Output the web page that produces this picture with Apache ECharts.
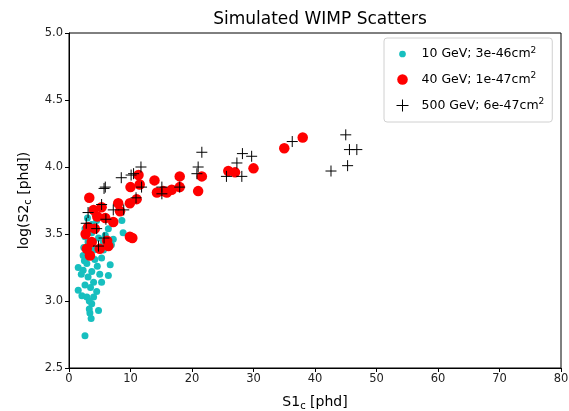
<!DOCTYPE html>
<html>
<head>
<meta charset="utf-8">
<script src="https://cdn.jsdelivr.net/npm/echarts@6/dist/echarts.min.js"></script>
<style>
  html, body { margin: 0; padding: 0; background: #fff; }
  #chart { width: 569px; height: 411px; }
</style>
</head>
<body>
<div id="chart"></div>
<script>
// S1c [phd], log(S2c [phd]) pairs
var wimp10 = [
  [2.6, 2.74], [3.6, 2.87], [3.4, 2.91], [4.8, 2.93], [3.3, 2.94], [3.7, 2.98],
  [1.5, 3.08], [2.1, 3.04], [2.9, 3.03], [4.0, 3.03], [4.5, 3.07], [2.6, 3.12],
  [4.0, 3.14], [5.3, 3.14], [3.1, 3.18], [1.5, 3.25], [2.3, 3.23], [3.7, 3.22],
  [5.0, 3.20], [6.4, 3.19], [6.7, 3.27], [2.9, 3.28], [4.2, 3.31], [5.3, 3.32],
  [2.3, 3.34], [4.0, 3.38], [5.6, 3.38], [3.1, 3.44], [2.6, 3.48], [3.7, 3.51],
  [4.8, 3.47], [7.2, 3.46], [6.4, 3.54], [8.8, 3.51], [2.6, 3.54], [3.7, 3.57],
  [8.6, 3.60], [4.5, 3.60], [5.6, 3.44], [2.4, 3.40], [3.0, 3.36], [4.6, 3.26],
  [3.5, 3.10], [2.0, 3.20], [5.9, 3.49], [6.9, 3.42], [3.0, 3.62], [4.2, 3.65],
  [2.5, 3.30], [3.3, 3.00]
];
var wimp40 = [
  [3.3, 3.77], [5.3, 3.70], [4.0, 3.68], [3.1, 3.55], [4.2, 3.54], [5.9, 3.62],
  [7.2, 3.59], [8.0, 3.73], [8.3, 3.67], [9.9, 3.73], [11.0, 3.76], [10.0, 3.85],
  [11.3, 3.94], [13.9, 3.90], [14.3, 3.81], [15.9, 3.81], [3.7, 3.44], [2.9, 3.39],
  [3.4, 3.34], [5.0, 3.39], [6.4, 3.41], [9.9, 3.48], [10.3, 3.47], [15.3, 3.82],
  [16.7, 3.83], [18.0, 3.93], [18.0, 3.85], [21.0, 3.82], [21.6, 3.93], [25.9, 3.97],
  [27.0, 3.96], [30.0, 3.99], [35.0, 4.14], [38.0, 4.22], [4.6, 3.63], [6.2, 3.45],
  [2.7, 3.50], [11.5, 3.87]
];
var wimp500 = [
  [36.3, 4.19], [45.0, 4.24], [45.6, 4.13], [46.8, 4.13], [45.3, 4.01], [42.6, 3.97],
  [28.2, 4.10], [29.7, 4.08], [28.1, 3.93], [21.6, 4.11], [21.0, 4.00], [20.8, 3.95],
  [27.3, 4.03], [25.6, 3.93], [18.0, 3.85], [15.1, 3.85], [15.1, 3.80], [11.7, 4.00],
  [10.5, 3.95], [11.8, 3.85], [10.9, 3.77], [8.5, 3.92], [5.7, 3.84], [5.3, 3.72],
  [3.1, 3.66], [7.2, 3.68], [8.9, 3.68], [6.0, 3.61], [2.8, 3.58], [4.5, 3.54],
  [5.7, 3.47], [4.8, 3.41], [5.9, 3.85], [10.1, 3.94]
];
var seriesNames = ["10 GeV; 3e-46cm2", "40 GeV; 1e-47cm2", "500 GeV; 6e-47cm2"];

var FONT = "DejaVu Sans";
var plus = "path://M0,5L10,5M5,0L5,10";
// small dot for legend: the two bare moves keep the 0..10 box so the dot stays small
var smallDot = "path://M0,0M10,10M5,2.2A2.8,2.8 0 1 1 5,7.8A2.8,2.8 0 1 1 5,2.2Z";
var bigDot = "path://M0,0M10,10M5,0.6A4.4,4.4 0 1 1 5,9.4A4.4,4.4 0 1 1 5,0.6Z";

var chart = echarts.init(document.getElementById("chart"));
chart.setOption({
  animation: false,
  textStyle: { fontFamily: FONT },
  title: {
    text: "Simulated WIMP Scatters",
    left: 315,
    textAlign: "center",
    top: 6,
    textStyle: { fontFamily: FONT, fontSize: 17, fontWeight: "normal", color: "#000" }
  },
  grid: {
    left: 69, right: 8, top: 33, bottom: 43,
    outerBoundsMode: "none",
    show: true, borderColor: "#000", borderWidth: 1
  },
  legend: {
    orient: "vertical",
    left: 384,
    top: 38,
    padding: [8, 8, 8, 10],
    itemGap: 11,
    itemWidth: 12,
    itemHeight: 12,
    backgroundColor: "#fff",
    borderColor: "#d0d0d0",
    borderWidth: 1,
    borderRadius: 3,
    formatter: function (name) {
      return "{t|" + name.slice(0, -1) + "}{sup|2}";
    },
    textStyle: {
      fontFamily: FONT, fontSize: 12.5, color: "#000", padding: [0, 0, 0, 8],
      rich: {
        t: { fontFamily: FONT, fontSize: 12.5, color: "#000" },
        sup: { fontFamily: FONT, fontSize: 9, color: "#000", padding: [0, 0, 7, 0] }
      }
    },
    data: [
      { name: seriesNames[0], icon: smallDot },
      { name: seriesNames[1], icon: bigDot },
      { name: seriesNames[2], icon: plus, itemStyle: { color: "none", borderColor: "#000", borderWidth: 1 } }
    ]
  },
  xAxis: {
    type: "value",
    min: 0, max: 80, interval: 10,
    name: "{n|S1}{s|c}{n| [phd]}",
    nameLocation: "middle",
    nameGap: 26,
    nameTextStyle: {
      color: "#000",
      rich: {
        n: { fontFamily: FONT, fontSize: 14, color: "#000" },
        s: { fontFamily: FONT, fontSize: 10, color: "#000", padding: [7, 0, 0, 0] }
      }
    },
    axisLine: { onZero: false, lineStyle: { color: "#000", width: 1 } },
    axisTick: { show: true, length: 4, lineStyle: { color: "#000" } },
    axisLabel: { color: "#222", fontSize: 11.5, fontFamily: FONT, margin: 5 },
    splitLine: { show: false }
  },
  yAxis: {
    type: "value",
    min: 2.5, max: 5.0, interval: 0.5,
    name: "{n|log(S2}{s|c}{n| [phd])}",
    nameLocation: "middle",
    nameRotate: 90,
    nameGap: 36,
    nameTextStyle: {
      color: "#000",
      rich: {
        n: { fontFamily: FONT, fontSize: 14, color: "#000" },
        s: { fontFamily: FONT, fontSize: 10, color: "#000", padding: [7, 0, 0, 0] }
      }
    },
    axisLine: { onZero: false, lineStyle: { color: "#000", width: 1 } },
    axisTick: { show: true, length: 4, lineStyle: { color: "#000" } },
    axisLabel: {
      color: "#222", fontSize: 11.5, fontFamily: FONT, margin: 6,
      formatter: function (v) { return v.toFixed(1); }
    },
    splitLine: { show: false }
  },
  series: [
    {
      name: seriesNames[0],
      type: "scatter",
      symbol: "circle",
      symbolSize: 7,
      itemStyle: { color: "#17bfbf", opacity: 1 },
      data: wimp10
    },
    {
      name: seriesNames[1],
      type: "scatter",
      symbol: "circle",
      symbolSize: 10.5,
      itemStyle: { color: "#ff0000", opacity: 1 },
      data: wimp40
    },
    {
      name: seriesNames[2],
      type: "scatter",
      symbol: plus,
      symbolSize: 11,
      itemStyle: { color: "none", borderColor: "#000", borderWidth: 1, opacity: 1 },
      data: wimp500
    }
  ]
});
</script>
</body>
</html>
